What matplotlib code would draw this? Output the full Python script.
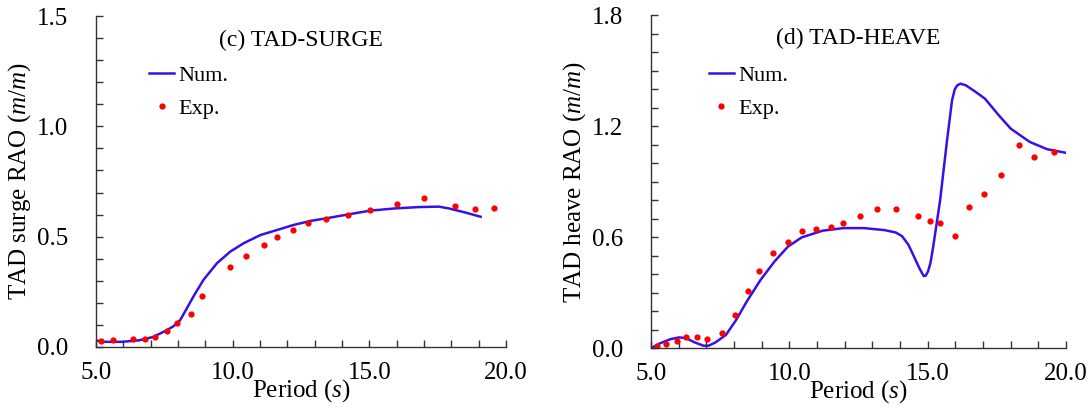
import numpy as np
import matplotlib
matplotlib.use('Agg')
import matplotlib.pyplot as plt
from matplotlib.ticker import MultipleLocator, FormatStrFormatter

plt.rcParams['font.family'] = 'Liberation Serif'
plt.rcParams['mathtext.fontset'] = 'custom'
plt.rcParams['mathtext.rm'] = 'Liberation Serif'
plt.rcParams['mathtext.it'] = 'Liberation Serif:italic'

# ---------- data ----------
surge_num_T = [5.0, 5.32, 5.95, 6.58, 7.09, 7.59, 7.85, 8.08, 8.3, 8.56, 8.93, 9.42, 9.91,
               10.40, 11.01, 11.62, 12.23, 12.84, 13.51, 14.24, 15.04, 15.95, 16.81, 17.54,
               17.9, 18.52, 19.07]
surge_num = [0.029, 0.023, 0.023, 0.030, 0.045, 0.076, 0.095, 0.122, 0.17, 0.228, 0.304, 0.379,
             0.432, 0.470, 0.507, 0.530, 0.553, 0.571, 0.585, 0.601, 0.618, 0.628, 0.634, 0.636,
             0.628, 0.609, 0.590]
surge_exp_T = [5.19, 5.62, 6.34, 6.78, 7.14, 7.59, 7.95, 8.47, 8.87, 9.91, 10.48, 11.16,
               11.62, 12.22, 12.77, 13.42, 14.23, 15.04, 16.0, 16.99, 18.15, 18.87, 19.57]
surge_exp = [0.029, 0.033, 0.038, 0.038, 0.044, 0.074, 0.107, 0.147, 0.233, 0.363, 0.413, 0.464,
             0.497, 0.531, 0.563, 0.579, 0.596, 0.620, 0.649, 0.676, 0.640, 0.625, 0.632]

heave_num_T = [5.0, 5.34, 5.71, 6.02, 6.27, 6.58, 6.90, 7.08, 7.33, 7.71, 8.08, 8.46, 8.96,
               9.46, 9.95, 10.45, 11.2, 11.95, 12.7, 13.45, 13.85, 14.07, 14.3, 14.45, 14.7,
               14.8, 14.86, 14.93, 15.01, 15.1, 15.2, 15.45, 15.7, 15.88, 15.98, 16.07, 16.19,
               16.38, 16.69, 17.07, 17.57, 18.0, 18.69, 19.31, 20.0]
heave_num = [0.0, 0.027, 0.049, 0.058, 0.054, 0.031, 0.013, 0.013, 0.031, 0.072, 0.153, 0.252,
             0.369, 0.468, 0.549, 0.599, 0.635, 0.649, 0.649, 0.638, 0.625, 0.606, 0.56, 0.513,
             0.432, 0.405, 0.390, 0.392, 0.414, 0.46, 0.549, 0.800, 1.124, 1.340, 1.40, 1.421,
             1.430, 1.421, 1.390, 1.349, 1.259, 1.187, 1.115, 1.076, 1.056]
heave_exp_T = [5.21, 5.54, 5.95, 6.25, 6.66, 7.01, 7.56, 8.04, 8.51, 8.91, 9.42, 9.94, 10.45,
               10.98, 11.49, 11.94, 12.55, 13.16, 13.85, 14.66, 15.07, 15.46, 15.98, 16.49,
               17.02, 17.64, 18.29, 18.86, 19.56]
heave_exp = [0.013, 0.023, 0.038, 0.058, 0.061, 0.047, 0.081, 0.180, 0.309, 0.417, 0.513, 0.574,
             0.635, 0.644, 0.653, 0.678, 0.712, 0.752, 0.752, 0.712, 0.687, 0.678, 0.604, 0.761,
             0.835, 0.937, 1.101, 1.034, 1.063]

line_c = '#3a10e8'
dot_c = '#ff0000'
spine_c = '#333333'

fig = plt.figure(figsize=(10.89, 4.12), dpi=100)
ax1 = fig.add_axes([0.0882, 0.158, 0.3765, 0.803])
ax2 = fig.add_axes([0.5978, 0.155, 0.3811, 0.808])


def style(ax, ymax, ymajor, ylabel, title, ty, lx):
    ax.set_xlim(5, 20)
    ax.set_ylim(0, ymax)
    ax.xaxis.set_major_locator(MultipleLocator(5))
    ax.xaxis.set_minor_locator(MultipleLocator(1))
    ax.yaxis.set_major_locator(MultipleLocator(ymajor))
    ax.yaxis.set_minor_locator(MultipleLocator(0.1))
    ax.xaxis.set_major_formatter(FormatStrFormatter('%.1f'))
    ax.yaxis.set_major_formatter(FormatStrFormatter('%.1f'))
    for s in ['top', 'right']:
        ax.spines[s].set_visible(False)
    for s in ['left', 'bottom']:
        ax.spines[s].set_color(spine_c)
        ax.spines[s].set_linewidth(1.0)
    ax.tick_params(which='both', direction='in', length=5, width=1.0, color=spine_c,
                   labelsize=18)
    ax.tick_params(axis='x', which='major', pad=11)
    ax.tick_params(axis='y', which='major', pad=20)
    ax.set_xlabel('Period ($s$)', fontsize=18, labelpad=-5)
    ax.set_ylabel(ylabel, fontsize=18, labelpad=3)
    ax.text(0.5, ty, title, transform=ax.transAxes, ha='center', va='center', fontsize=17)
    ax.legend(loc='upper left', bbox_to_anchor=(lx, 0.85), frameon=False,
              fontsize=16, handlelength=1.1, handletextpad=0.2, labelspacing=0.55,
              borderpad=0, borderaxespad=0)


ax1.plot(surge_num_T, surge_num, color=line_c, lw=1.8, label='Num.')
ax1.plot(surge_exp_T, surge_exp, 'o', color=dot_c, ms=4.5, mec='none', label='Exp.')
style(ax1, 1.5, 0.5, 'TAD surge RAO ($m/m$)', '(c) TAD-SURGE', 0.925, 0.13)

ax2.plot(heave_num_T, heave_num, color=line_c, lw=1.8, label='Num.')
ax2.plot(heave_exp_T, heave_exp, 'o', color=dot_c, ms=4.5, mec='none', label='Exp.')
style(ax2, 1.8, 0.6, 'TAD heave RAO ($m/m$)', '(d) TAD-HEAVE', 0.93, 0.14)

fig.savefig('out.png', dpi=100)
